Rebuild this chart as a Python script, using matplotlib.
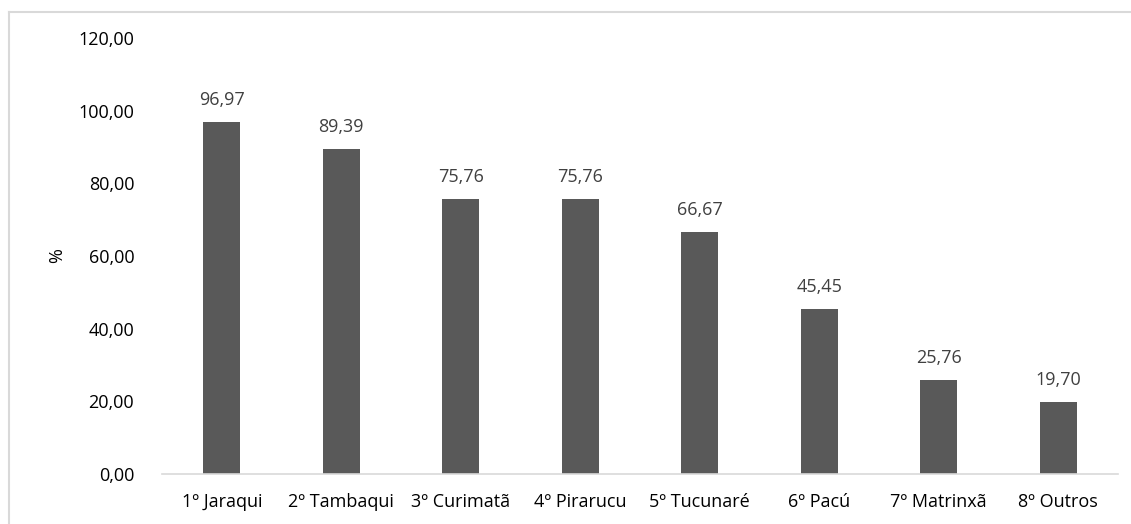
import matplotlib.pyplot as plt
from matplotlib.lines import Line2D
from matplotlib.ticker import FuncFormatter

categories = ['1º Jaraqui', '2º Tambaqui', '3º Curimatã', '4º Pirarucu',
              '5º Tucunaré', '6º Pacú', '7º Matrinxã', '8º Outros']
values = [96.97, 89.39, 75.76, 75.76, 66.67, 45.45, 25.76, 19.70]
yticks = [0, 20, 40, 60, 80, 100, 120]

plt.rcParams['font.family'] = ['Open Sans', 'DejaVu Sans']

W, H = 1131, 524
fig = plt.figure(figsize=(W / 100, H / 100), dpi=100)
ax = fig.add_axes([162 / W, 1 - 474 / H, (1118 - 162) / W, (474 - 38) / H])

x = range(len(categories))
bars = ax.bar(x, values, width=0.31, color='#595959')
for xi, v in zip(x, values):
    ax.text(xi, v + 3.6, f'{v:.2f}'.replace('.', ','), ha='center', va='bottom',
            fontsize=13, color='#404040')

ax.set_xlim(-0.5, len(categories) - 0.5)
ax.set_ylim(0, 120)
ax.set_yticks(yticks)
ax.yaxis.set_major_formatter(FuncFormatter(lambda v, p: f'{v:.2f}'.replace('.', ',')))
ax.set_xticks(list(x))
ax.set_xticklabels(categories)
ax.tick_params(axis='both', length=0, labelsize=13, colors='#000000')
ax.tick_params(axis='y', pad=20)
ax.tick_params(axis='x', pad=14)

for s in ['top', 'right', 'left']:
    ax.spines[s].set_visible(False)
ax.spines['bottom'].set_color('#d9d9d9')
ax.spines['bottom'].set_linewidth(1.2)

ax.set_ylabel('%', fontsize=13)
ax.yaxis.set_label_coords(-0.100, 0.5)

# chart area border (top and left visible)
fig.add_artist(Line2D([9 / W, 9 / W], [0, 1 - 12 / H], transform=fig.transFigure,
                      color='#d9d9d9', lw=1.5))
fig.add_artist(Line2D([9 / W, 1], [1 - 12 / H, 1 - 12 / H], transform=fig.transFigure,
                      color='#d9d9d9', lw=1.5))

fig.savefig('out.png', dpi=100, facecolor='white')
